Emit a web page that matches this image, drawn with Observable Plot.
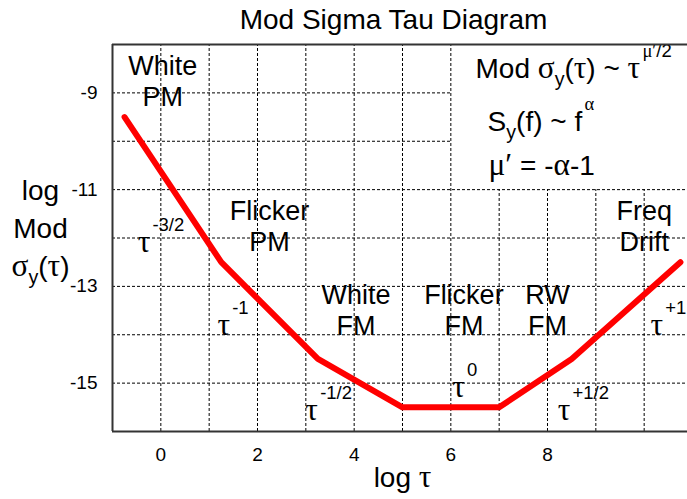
<!DOCTYPE html>
<html><head><meta charset="utf-8">
<script src="https://cdn.jsdelivr.net/npm/d3@7"></script>
<script src="https://cdn.jsdelivr.net/npm/@observablehq/plot@0.6"></script>
<style>
html,body{margin:0;padding:0;background:#fff;overflow:hidden;width:687px;height:499px}
#chart svg{max-width:none !important;height:499px !important;width:700px !important;display:block}
</style></head><body><div id="chart"></div>
<script>
// ---- data ----
const logTau = [-0.75, 1.25, 3.25, 5, 7, 8.5, 10.75];
const logModSigma = [-9.5, -12.5, -14.5, -15.5, -15.5, -14.5, -12.5];
const xTicks = [0, 2, 4, 6, 8];
const yTicks = [-9, -11, -13, -15];
const gridXFull = [0, 1, 2, 3, 4, 5, 6];
const gridXPartial = [7, 8, 9, 10];
const gridYPartial = [-9, -10];
const gridYFull = [-11, -12, -13, -14, -15];
const regionLabels = ["White\nPM", "Flicker\nPM", "White\nFM", "Flicker\nFM", "RW\nFM", "Freq\nDrift"];
const regionX = [0.04, 2.25, 4.04, 6.27, 8.0, 10.0];
const regionY = [-8.75, -11.75, -13.48, -13.48, -13.48, -11.75];
const slopeLabels = ["τ^{-3/2}", "τ^{-1}", "τ^{-1/2}", "τ^{0}", "τ^{+1/2}", "τ^{+1}"];
const slopeX = [-0.48, 1.17, 2.99, 6.03, 8.21, 10.13];
const slopeY = [-12.10, -13.82, -15.58, -15.10, -15.58, -13.82];
const formulaLines = ["Mod σ_{y}(τ) ~ τ^{μ′/2}", "S_{y}(f) ~ f^{α}", "μ′ = -α-1"];
const formulaX = [6.51, 6.76, 6.78];
const formulaY = [-8.50, -9.60, -10.51];
const titleText = "Mod Sigma Tau Diagram";
const xLabel = "log τ";
const yLabel = "log\nMod\nσ_{y}(τ)";

const curve = logTau.map((x, i) => ({x, y: logModSigma[i]}));
const gridStyle = {stroke: "#000", strokeWidth: 1, strokeDasharray: "3,2"};
const frameStyle = {stroke: "#333", strokeWidth: 2};

const chart = Plot.plot({
  width: 700,
  height: 499,
  marginLeft: 112,
  marginRight: 8,
  marginTop: 44,
  marginBottom: 68,
  style: {fontFamily: "'Liberation Sans', Arial, sans-serif", fontSize: "19px", background: "white", color: "#000"},
  x: {domain: [-1, 11], ticks: xTicks, tickSize: 0, tickPadding: 16, tickFormat: d => String(d), label: null},
  y: {domain: [-16, -8], ticks: yTicks, tickSize: 0, tickPadding: 15, tickFormat: d => String(d), label: null},
  marks: [
    Plot.ruleX(gridXFull, {x: d => d, y1: -16, y2: -8, ...gridStyle}),
    Plot.ruleX(gridXPartial, {x: d => d, y1: -16, y2: -11, ...gridStyle}),
    Plot.ruleY(gridYPartial, {y: d => d, x1: -1, x2: 6, ...gridStyle}),
    Plot.ruleY(gridYFull, {y: d => d, x1: -1, x2: 11, ...gridStyle}),
    Plot.line(curve, {x: "x", y: "y", stroke: "#ff0000", strokeWidth: 6, strokeLinejoin: "round", strokeLinecap: "round"}),
    Plot.text(regionLabels, {x: (d, i) => regionX[i], y: (d, i) => regionY[i], text: d => d, fontSize: 27, lineHeight: 1.15, fill: "#000"}),
    Plot.text(slopeLabels, {x: (d, i) => slopeX[i], y: (d, i) => slopeY[i], text: d => d, fontSize: 28, textAnchor: "start", fill: "#000"}),
    Plot.text(formulaLines, {x: (d, i) => formulaX[i], y: (d, i) => formulaY[i], text: d => d, fontSize: 28, textAnchor: "start", fill: "#000"}),
    Plot.text([titleText], {frameAnchor: "top", textAnchor: "middle", lineAnchor: "middle", dx: -9, dy: -24, fontSize: 28, fill: "#000"}),
    Plot.text([xLabel], {frameAnchor: "bottom", textAnchor: "middle", lineAnchor: "middle", dy: 47, fontSize: 28, fill: "#000"}),
    Plot.text([yLabel], {frameAnchor: "left", textAnchor: "middle", lineAnchor: "middle", dx: -72, dy: -12, fontSize: 28, lineHeight: 1.36, fill: "#000"}),
    Plot.ruleX([-1], {x: d => d, ...frameStyle}),
    Plot.ruleY([-16], {y: d => d, ...frameStyle}),
    Plot.ruleY([-8], {y: d => d, ...frameStyle})
  ]
});
chart.style.maxWidth = "none";
document.getElementById("chart").appendChild(chart);

// axis tick labels: enforce size
d3.select(chart).selectAll("text")
  .filter(function () { return /^[-−]?\d+$/.test(this.textContent.trim()); })
  .each(function () {
    this.style.fontSize = "19px";
    if (this.parentNode && this.parentNode.style) this.parentNode.style.fontSize = "19px";
  });

// ---- rich text: superscripts, subscripts, serif Greek ----
const GREEK = /[α-ωΑ-Ω′]/;
function parse(s) {
  const segs = []; let i = 0, buf = "";
  while (i < s.length) {
    if ((s[i] === "^" || s[i] === "_") && s[i + 1] === "{") {
      if (buf) { segs.push({t: buf, m: "n"}); buf = ""; }
      const j = s.indexOf("}", i);
      segs.push({t: s.slice(i + 2, j), m: s[i] === "^" ? "sup" : "sub"});
      i = j + 1;
    } else { buf += s[i]; i++; }
  }
  if (buf) segs.push({t: buf, m: "n"});
  return segs;
}
function richify(node) {
  const s = node.textContent;
  if (!/[\^_]\{/.test(s) && !GREEK.test(s)) return;
  const segs = parse(s);
  while (node.firstChild) node.removeChild(node.firstChild);
  let shift = 0;
  segs.forEach(seg => {
    const baseEm = seg.m === "n" ? 1 : (seg.m === "sup" ? 0.66 : 0.7);
    const target = seg.m === "sup" ? -0.74 : (seg.m === "sub" ? 0.28 : 0);
    const delta = target - shift;
    shift = target;
    const parts = seg.t.match(/[α-ωΑ-Ω′]+|[^α-ωΑ-Ω′]+/g) || [];
    parts.forEach((p, k) => {
      const greek = GREEK.test(p);
      const sizeEm = baseEm * (greek && seg.m === "n" ? 1.12 : 1);
      const ts = document.createElementNS("http://www.w3.org/2000/svg", "tspan");
      ts.setAttribute("font-size", sizeEm + "em");
      if (k === 0 && delta !== 0) ts.setAttribute("dy", (delta / sizeEm) + "em");
      if (k === 0 && seg.m === "sup") ts.setAttribute("dx", "0.12em");
      if (greek) ts.setAttribute("font-family", "'Liberation Serif', 'Times New Roman', serif");
      ts.textContent = p;
      node.appendChild(ts);
    });
  });
}
d3.select(chart).selectAll("text").each(function () {
  const kids = Array.from(this.children).filter(c => c.tagName === "tspan");
  if (kids.length) kids.forEach(richify); else richify(this);
});
</script>
</body></html>
